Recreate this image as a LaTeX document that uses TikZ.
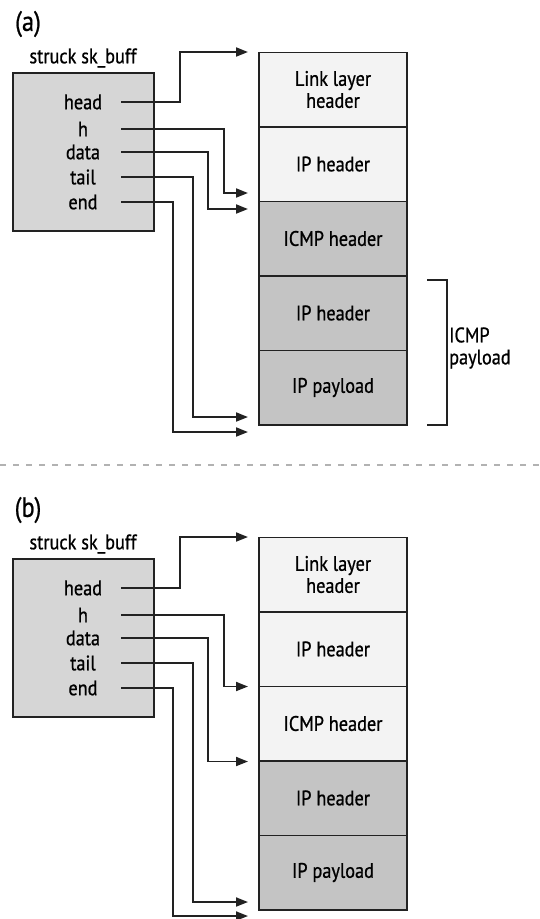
\documentclass[tikz,border=0pt]{standalone}
\usepackage{fontspec}
\setmainfont{PT Sans}[FakeBold=0.8, FakeStretch=0.87]
\usetikzlibrary{arrows.meta,positioning}

\definecolor{lightrow}{HTML}{F3F3F3}
\definecolor{darkrow}{HTML}{C4C4C4}
\definecolor{skbfill}{HTML}{D6D6D6}
\definecolor{ink}{HTML}{222222}

\tikzset{
  skbox/.style={draw=ink, line width=1.6pt, fill=skbfill, minimum width=141pt, minimum height=158pt, outer sep=0pt},
  field/.style={minimum width=76pt, inner sep=0pt, font=\fontsize{21}{20}\selectfont},
  row/.style={draw=ink, line width=1.5pt, minimum width=148pt, minimum height=74.5pt, outer sep=0pt,
    align=center, font=\fontsize{21}{22}\selectfont},
  light/.style={row, fill=lightrow},
  dark/.style={row, fill=darkrow},
  ptr/.style={draw=ink, line width=1.8pt, -{Triangle[length=12pt,width=9pt]}},
  panel/.style={font=\fontsize{28}{28}\selectfont},
  caption/.style={font=\fontsize{21}{22}\selectfont}
}

\begin{document}
\begin{tikzpicture}[x=1pt, y=-1pt]
\useasboundingbox (0,0) rectangle (540,919);

% (a) avant : data pointe sur l'en-tete ICMP
\node[panel] (labA) at (28,24) {(a)};
\node[caption] (capA) at (83,58) {struck sk\_buff};
\node[skbox] (skbA) at (83.5,152) {};
\node[field] (headA) at (83,102) {head};
\node[field] (hA) at (83,129) {h};
\node[field] (dataA) at (83,152) {data};
\node[field] (tailA) at (83,177) {tail};
\node[field] (endA) at (83,202) {end};

\node[light] (llA) at (333,89.5) {Link layer\\header};
\node[light, below=0pt of llA] (ipA) {IP header};
\node[dark, below=0pt of ipA] (icmpA) {ICMP header};
\node[dark, below=0pt of icmpA] (ipiA) {IP header};
\node[dark, below=0pt of ipiA] (payA) {IP payload};

\coordinate (headtA) at (248,52);
\coordinate (htA) at (248,193);
\coordinate (datatA) at (248,209);
\coordinate (tailtA) at (248,417);
\coordinate (endtA) at (248,432);
\draw[ptr] (headA.east) -| (180,52) -- (headtA);
\draw[ptr] (hA.east) -| (224,193) -- (htA);
\draw[ptr] (dataA.east) -| (208,209) -- (datatA);
\draw[ptr] (tailA.east) -| (193,417) -- (tailtA);
\draw[ptr] (endA.east) -| (173,432) -- (endtA);

% accolade charge utile ICMP
\draw[ink, line width=1.8pt] (427,280) -- (447,280) -- (447,425) -- (427,425);
\node[caption, align=left, anchor=west, inner xsep=2pt] (plA) at (447,348) {ICMP\\payload};

% separation
\draw[gray!60, line width=2.5pt, dash pattern=on 6pt off 7pt] (0,465) -- (540,465);

% (b) apres : data pointe sur la charge utile ICMP
\begin{scope}[shift={(0,486)}]
\node[panel] (labB) at (28,24) {(b)};
\node[caption] (capB) at (83,58) {struck sk\_buff};
\node[skbox] (skbB) at (83.5,152) {};
\node[field] (headB) at (83,102) {head};
\node[field] (hB) at (83,129) {h};
\node[field] (dataB) at (83,152) {data};
\node[field] (tailB) at (83,177) {tail};
\node[field] (endB) at (83,202) {end};

\node[light] (llB) at (333,88.5) {Link layer\\header};
\node[light, below=0pt of llB] (ipB) {IP header};
\node[light, below=0pt of ipB] (icmpB) {ICMP header};
\node[dark, below=0pt of icmpB] (ipiB) {IP header};
\node[dark, below=0pt of ipiB] (payB) {IP payload};

\coordinate (headtB) at (248,51);
\coordinate (htB) at (248,200.5);
\coordinate (datatB) at (248,275.5);
\coordinate (tailtB) at (248,416);
\coordinate (endtB) at (248,430);
\draw[ptr] (headB.east) -| (180,51) -- (headtB);
\draw[ptr] (hB.east) -| (224,200.5) -- (htB);
\draw[ptr] (dataB.east) -| (208,275.5) -- (datatB);
\draw[ptr] (tailB.east) -| (193,416) -- (tailtB);
\draw[ptr] (endB.east) -| (173,430) -- (endtB);
\end{scope}
\end{tikzpicture}
\end{document}
